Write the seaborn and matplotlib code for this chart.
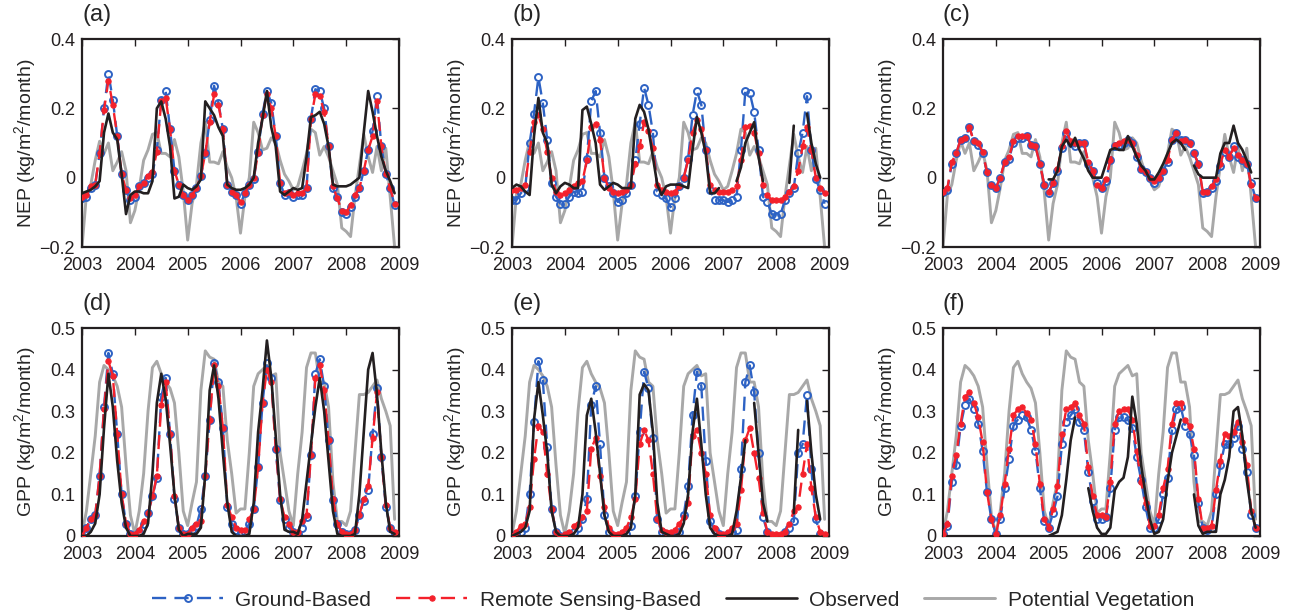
import numpy as np
import pandas as pd
import matplotlib
matplotlib.use("Agg")
import matplotlib.pyplot as plt
import seaborn as sns

nan = np.nan
months = 2003 + np.arange(72) / 12

# potential vegetation is the same in every panel of a row
nep_potential = [
    -0.20, -0.05, -0.02, 0.05, 0.105, 0.07, 0.10, 0.02, 0.045, 0.075, 0.02, -0.13,
    -0.095, -0.03, 0.05, 0.08, 0.125, 0.13, 0.07, 0.07, 0.06, 0.11, 0.06, -0.04,
    -0.18, -0.075, -0.02, 0.10, 0.16, 0.045, 0.045, 0.04, 0.075, 0.03, 0.0, -0.055,
    -0.16, -0.055, 0.0, 0.16, 0.13, 0.08, 0.085, 0.115, 0.10, 0.05, 0.01, -0.01,
    -0.035, -0.025, 0.02, 0.07, 0.14, 0.13, 0.065, 0.09, 0.06, 0.02, -0.02, -0.145,
    -0.155, -0.17, -0.055, 0.035, 0.125, 0.06, 0.015, 0.09, 0.02, 0.085, -0.055, -0.20,
]
gpp_potential = [
    0.005, 0.06, 0.15, 0.24, 0.37, 0.41, 0.40, 0.385, 0.36, 0.31, 0.17, 0.05,
    0.005, 0.06, 0.15, 0.30, 0.405, 0.42, 0.39, 0.37, 0.355, 0.32, 0.20, 0.06,
    0.025, 0.08, 0.13, 0.35, 0.445, 0.43, 0.425, 0.37, 0.36, 0.23, 0.15, 0.055,
    0.065, 0.065, 0.20, 0.36, 0.39, 0.40, 0.41, 0.385, 0.39, 0.20, 0.13, 0.06,
    0.025, 0.15, 0.25, 0.405, 0.44, 0.44, 0.37, 0.37, 0.31, 0.13, 0.035, 0.035,
    0.025, 0.06, 0.20, 0.34, 0.34, 0.345, 0.36, 0.375, 0.33, 0.30, 0.265, 0.04,
]

# (a) NEP
ground_a = [
    -0.06, -0.055, -0.03, -0.02, 0.07, 0.20, 0.30, 0.225, 0.12, 0.01, -0.035, -0.065,
    -0.055, -0.025, -0.015, 0.0, 0.01, 0.08, 0.225, 0.25, 0.14, 0.02, -0.02, -0.05,
    -0.065, -0.05, -0.03, 0.005, 0.07, 0.165, 0.265, 0.215, 0.14, -0.02, -0.04, -0.05,
    -0.075, -0.045, -0.02, -0.005, 0.075, 0.185, 0.25, 0.215, 0.12, -0.015, -0.05, -0.045,
    -0.055, -0.05, -0.05, -0.03, 0.17, 0.255, 0.25, 0.20, 0.09, -0.03, -0.055, -0.10,
    -0.105, -0.085, -0.055, -0.03, 0.02, 0.08, 0.135, 0.235, 0.09, 0.01, -0.03, -0.08,
]
remote_a = [
    -0.055, -0.05, -0.025, -0.02, 0.07, 0.195, 0.28, 0.21, 0.12, 0.01, -0.035, -0.06,
    -0.05, -0.025, -0.015, 0.005, 0.015, 0.075, 0.22, 0.23, 0.14, 0.02, -0.02, -0.05,
    -0.065, -0.05, -0.03, 0.005, 0.07, 0.16, 0.24, 0.21, 0.14, -0.02, -0.04, -0.05,
    -0.07, -0.045, -0.02, 0.0, 0.07, 0.18, 0.24, 0.20, 0.12, -0.015, -0.045, -0.04,
    -0.05, -0.045, -0.045, -0.03, 0.17, 0.24, 0.235, 0.19, 0.09, -0.025, -0.06, -0.095,
    -0.10, -0.08, -0.05, -0.03, 0.02, 0.08, 0.12, 0.22, 0.09, 0.01, -0.03, -0.075,
]
observed_a = [
    -0.045, -0.04, -0.035, -0.025, -0.01, 0.13, 0.185, 0.13, 0.11, 0.01, -0.105, -0.05,
    -0.04, -0.04, -0.045, -0.045, -0.01, 0.20, 0.22, 0.17, 0.09, -0.06, -0.055, -0.02,
    -0.03, -0.035, -0.025, -0.005, 0.22, 0.20, 0.18, 0.145, 0.12, -0.02, -0.03, -0.035,
    -0.035, -0.03, -0.02, 0.0, 0.10, 0.17, 0.25, 0.145, 0.09, -0.04, -0.05, -0.04,
    -0.03, -0.035, -0.03, 0.06, 0.175, 0.18, 0.19, 0.155, 0.09, -0.02, -0.025, -0.025,
    -0.025, -0.02, -0.01, 0.0, 0.13, 0.25, 0.19, 0.12, 0.06, 0.02, -0.01, -0.045,
]

# (b) NEP
ground_b = [
    -0.065, -0.065, -0.045, -0.03, 0.10, 0.185, 0.29, 0.215, 0.11, -0.015, -0.055, -0.075,
    -0.075, -0.055, -0.04, -0.045, -0.04, 0.055, 0.22, 0.25, 0.13, 0.0, -0.025, -0.045,
    -0.07, -0.065, -0.045, -0.02, 0.05, 0.155, 0.26, 0.21, 0.13, -0.04, -0.05, -0.06,
    -0.085, -0.06, -0.025, 0.0, 0.055, 0.18, 0.25, 0.21, 0.08, -0.035, -0.065, -0.065,
    -0.065, -0.07, -0.065, -0.055, 0.08, 0.25, 0.245, 0.19, 0.08, -0.055, -0.07, -0.105,
    -0.11, -0.105, -0.065, -0.045, -0.03, 0.07, 0.13, 0.235, 0.08, -0.005, -0.035, -0.075,
]
remote_b = [
    -0.035, -0.035, -0.03, -0.02, 0.075, 0.16, 0.18, 0.14, 0.075, 0.0, -0.04, -0.05,
    -0.045, -0.035, -0.025, -0.015, -0.01, 0.05, 0.145, 0.155, 0.11, 0.0, -0.03, -0.04,
    -0.045, -0.04, -0.035, -0.02, 0.04, 0.09, 0.16, 0.135, 0.085, -0.02, -0.035, -0.04,
    -0.045, -0.04, -0.025, 0.0, 0.05, 0.13, 0.165, 0.14, 0.08, -0.02, -0.035, -0.04,
    -0.04, -0.04, -0.035, -0.025, 0.05, 0.145, 0.15, 0.13, 0.07, -0.02, -0.05, -0.065,
    -0.065, -0.065, -0.055, -0.04, -0.025, 0.02, 0.09, 0.145, 0.08, 0.0, -0.03, -0.045,
]
observed_b = [
    -0.03, -0.02, -0.025, -0.04, -0.05, 0.12, 0.23, 0.13, 0.10, -0.02, -0.045, -0.025,
    -0.015, -0.02, -0.03, -0.03, 0.195, 0.205, 0.155, 0.10, -0.02, -0.035, -0.025, -0.015,
    -0.02, -0.03, -0.03, -0.03, 0.17, 0.21, 0.19, 0.14, 0.06, -0.02, -0.05, -0.025,
    -0.02, -0.02, -0.02, -0.025, -0.03, 0.08, 0.175, 0.13, 0.07, -0.045, -0.045, -0.03,
    nan, nan, nan, -0.01, 0.03, 0.10, 0.13, 0.16, 0.06, -0.01, nan, nan,
    nan, nan, nan, -0.015, 0.15, nan, nan, 0.185, 0.10, 0.04, 0.0, nan,
]

# (c) NEP
ground_c = [
    -0.04, -0.035, 0.04, 0.07, 0.11, 0.115, 0.145, 0.105, 0.095, 0.07, 0.015, -0.02,
    -0.03, 0.0, 0.045, 0.055, 0.10, 0.115, 0.115, 0.12, 0.095, 0.09, 0.04, -0.02,
    -0.045, -0.015, 0.02, 0.085, 0.13, 0.10, 0.09, 0.10, 0.10, 0.04, 0.02, -0.015,
    -0.03, -0.01, 0.05, 0.09, 0.095, 0.10, 0.11, 0.10, 0.06, 0.025, 0.015, 0.0,
    -0.015, 0.0, 0.02, 0.045, 0.11, 0.13, 0.11, 0.11, 0.10, 0.07, 0.04, -0.045,
    -0.04, -0.03, -0.01, 0.035, 0.075, 0.06, 0.09, 0.06, 0.05, 0.04, -0.015, -0.06,
]
remote_c = [
    -0.04, -0.03, 0.045, 0.07, 0.11, 0.115, 0.145, 0.105, 0.10, 0.075, 0.015, -0.02,
    -0.03, 0.0, 0.045, 0.06, 0.105, 0.12, 0.12, 0.12, 0.095, 0.09, 0.04, -0.02,
    -0.04, -0.015, 0.025, 0.09, 0.135, 0.105, 0.10, 0.10, 0.10, 0.045, 0.02, -0.02,
    -0.03, -0.005, 0.05, 0.095, 0.10, 0.105, 0.11, 0.10, 0.065, 0.025, 0.015, 0.0,
    -0.01, 0.0, 0.02, 0.05, 0.11, 0.13, 0.105, 0.11, 0.10, 0.07, 0.04, -0.04,
    -0.04, -0.025, -0.005, 0.04, 0.08, 0.06, 0.085, 0.065, 0.05, 0.04, -0.02, -0.06,
]
observed_c = [
    nan, nan, nan, nan, nan, nan, nan, nan, nan, nan, nan, nan,
    nan, nan, nan, nan, nan, nan, nan, nan, nan, nan, nan, nan,
    -0.005, -0.005, 0.02, 0.09, 0.11, 0.09, 0.115, 0.08, 0.055, 0.02, 0.0, 0.0,
    0.0, 0.04, 0.08, 0.085, 0.08, 0.08, 0.12, 0.09, 0.06, 0.035, 0.02, -0.005,
    -0.005, 0.015, 0.04, 0.07, 0.10, 0.11, 0.10, 0.08, nan, 0.035, 0.01, 0.0,
    0.0, 0.0, 0.0, 0.07, 0.10, 0.10, 0.15, 0.10, 0.08, 0.05, 0.015, nan,
]

# (d) GPP
ground_d = [
    0.0, 0.02, 0.04, 0.05, 0.145, 0.31, 0.44, 0.39, 0.245, 0.10, 0.03, 0.005,
    0.0, 0.01, 0.03, 0.055, 0.095, 0.14, 0.335, 0.38, 0.245, 0.09, 0.02, 0.005,
    0.005, 0.015, 0.025, 0.065, 0.145, 0.28, 0.415, 0.37, 0.26, 0.07, 0.03, 0.015,
    0.01, 0.01, 0.03, 0.065, 0.165, 0.32, 0.415, 0.38, 0.21, 0.087, 0.04, 0.02,
    0.01, 0.005, 0.02, 0.045, 0.195, 0.39, 0.425, 0.36, 0.23, 0.087, 0.03, 0.01,
    0.005, 0.005, 0.015, 0.05, 0.085, 0.11, 0.245, 0.355, 0.19, 0.07, 0.02, 0.005,
]
remote_d = [
    0.0, 0.02, 0.04, 0.05, 0.145, 0.305, 0.42, 0.385, 0.245, 0.10, 0.03, 0.005,
    0.005, 0.015, 0.035, 0.055, 0.095, 0.145, 0.315, 0.37, 0.245, 0.095, 0.02, 0.005,
    0.005, 0.02, 0.03, 0.035, 0.145, 0.28, 0.41, 0.36, 0.26, 0.075, 0.045, 0.02,
    0.015, 0.015, 0.04, 0.065, 0.165, 0.32, 0.40, 0.37, 0.21, 0.09, 0.045, 0.03,
    0.01, 0.01, 0.035, 0.05, 0.195, 0.38, 0.41, 0.35, 0.23, 0.09, 0.03, 0.01,
    0.005, 0.005, 0.015, 0.05, 0.09, 0.12, 0.235, 0.345, 0.19, 0.075, 0.02, 0.01,
]
observed_d = [
    0.0, 0.0, 0.01, 0.03, 0.10, 0.26, 0.39, 0.31, 0.18, 0.08, 0.02, 0.0,
    0.0, 0.0, 0.005, 0.03, 0.15, 0.32, 0.39, 0.33, 0.22, 0.10, 0.015, 0.0,
    0.005, 0.005, 0.005, 0.02, 0.15, 0.35, 0.41, 0.33, 0.20, 0.08, 0.01, 0.0,
    0.0, 0.0, 0.005, 0.08, 0.25, 0.35, 0.47, 0.38, 0.24, 0.10, 0.015, 0.01,
    0.01, 0.005, 0.04, 0.13, 0.22, 0.31, 0.38, 0.30, 0.18, 0.06, 0.005, 0.0,
    0.0, 0.0, 0.005, 0.10, 0.25, 0.40, 0.44, 0.34, 0.20, 0.08, 0.01, 0.005,
]

# (e) GPP
ground_e = [
    0.0, 0.005, 0.01, 0.02, 0.10, 0.275, 0.42, 0.375, 0.215, 0.065, 0.01, 0.0,
    0.0, 0.005, 0.01, 0.02, 0.04, 0.09, 0.315, 0.36, 0.22, 0.05, 0.01, 0.0,
    0.0, 0.0, 0.005, 0.025, 0.095, 0.25, 0.395, 0.355, 0.235, 0.04, 0.01, 0.005,
    0.0, 0.0, 0.01, 0.05, 0.12, 0.29, 0.395, 0.36, 0.18, 0.035, 0.015, 0.005,
    0.0, 0.005, 0.01, 0.015, 0.16, 0.37, 0.41, 0.345, 0.20, 0.045, 0.01, 0.0,
    0.0, 0.0, 0.01, 0.02, 0.035, 0.20, 0.22, 0.34, 0.16, 0.04, 0.005, 0.0,
]
remote_e = [
    0.0, 0.01, 0.025, 0.03, 0.07, 0.185, 0.265, 0.25, 0.15, 0.065, 0.01, 0.0,
    0.005, 0.01, 0.025, 0.03, 0.045, 0.06, 0.21, 0.235, 0.145, 0.07, 0.02, 0.005,
    0.005, 0.01, 0.02, 0.045, 0.09, 0.22, 0.255, 0.23, 0.15, 0.04, 0.015, 0.01,
    0.01, 0.015, 0.03, 0.045, 0.08, 0.24, 0.255, 0.20, 0.15, 0.05, 0.02, 0.005,
    0.005, 0.01, 0.02, 0.03, 0.11, 0.23, 0.26, 0.20, 0.14, 0.055, 0.01, 0.005,
    0.005, 0.005, 0.01, 0.03, 0.06, 0.07, 0.15, 0.22, 0.115, 0.045, 0.01, 0.005,
]
observed_e = [
    0.0, 0.005, 0.01, 0.02, 0.06, 0.28, 0.37, 0.29, 0.20, 0.06, 0.01, 0.0,
    0.0, 0.0, 0.005, 0.02, 0.10, 0.29, 0.33, 0.25, 0.15, 0.05, 0.01, 0.0,
    0.0, 0.0, 0.005, 0.02, 0.10, 0.34, 0.365, 0.35, 0.25, 0.08, 0.01, 0.005,
    0.0, 0.0, 0.005, 0.03, 0.10, 0.25, 0.33, 0.22, 0.10, 0.02, 0.005, 0.0,
    0.0, 0.0, 0.005, 0.06, 0.14, 0.23, nan, 0.32, 0.20, 0.08, 0.035, nan,
    nan, nan, nan, nan, 0.055, 0.255, nan, 0.325, 0.20, 0.10, 0.04, nan,
]

# (f) GPP
ground_f = [
    0.005, 0.025, 0.13, 0.17, 0.265, 0.315, 0.33, 0.305, 0.27, 0.205, 0.105, 0.04,
    0.005, 0.04, 0.115, 0.185, 0.265, 0.28, 0.29, 0.285, 0.255, 0.205, 0.115, 0.035,
    0.02, 0.055, 0.095, 0.22, 0.275, 0.29, 0.305, 0.275, 0.255, 0.155, 0.085, 0.04,
    0.04, 0.045, 0.115, 0.255, 0.285, 0.285, 0.28, 0.26, 0.19, 0.135, 0.07, 0.02,
    0.02, 0.04, 0.10, 0.14, 0.255, 0.305, 0.31, 0.265, 0.245, 0.195, 0.08, 0.02,
    0.015, 0.02, 0.10, 0.17, 0.22, 0.22, 0.235, 0.265, 0.21, 0.155, 0.05, 0.02,
]
remote_f = [
    0.005, 0.03, 0.145, 0.195, 0.27, 0.335, 0.345, 0.32, 0.285, 0.225, 0.105, 0.04,
    0.005, 0.05, 0.125, 0.21, 0.29, 0.305, 0.31, 0.295, 0.28, 0.22, 0.125, 0.04,
    0.02, 0.065, 0.12, 0.245, 0.305, 0.31, 0.32, 0.29, 0.27, 0.165, 0.095, 0.05,
    0.05, 0.045, 0.13, 0.27, 0.30, 0.305, 0.305, 0.28, 0.205, 0.13, 0.08, 0.025,
    0.025, 0.05, 0.115, 0.16, 0.27, 0.32, 0.32, 0.28, 0.265, 0.21, 0.09, 0.02,
    0.02, 0.025, 0.11, 0.18, 0.245, 0.24, 0.25, 0.275, 0.225, 0.17, 0.06, 0.02,
]
observed_f = [
    nan, nan, nan, nan, nan, nan, nan, nan, nan, nan, nan, nan,
    nan, nan, nan, nan, nan, nan, nan, nan, nan, nan, nan, nan,
    0.0, 0.005, 0.01, 0.05, 0.135, 0.23, 0.285, nan, nan, 0.115, 0.06, 0.02,
    0.005, 0.005, 0.02, 0.11, 0.13, 0.14, 0.19, 0.335, 0.27, 0.17, 0.10, 0.04,
    0.005, 0.01, 0.04, 0.13, 0.20, 0.24, 0.28, nan, nan, 0.10, 0.025, 0.005,
    0.01, 0.01, 0.01, 0.10, 0.135, 0.19, 0.30, 0.31, 0.24, 0.135, 0.06, 0.02,
]

panel_letters = ["(a)", "(b)", "(c)", "(d)", "(e)", "(f)"]
year_ticks = list(range(2003, 2010))

BLUE = "#2d62c4"
RED = "#f4212b"
BLACK = "#231f20"
GRAY = "#a8a8a8"


def split_runs(values):
    df = pd.DataFrame({"t": months, "v": values})
    df["seg"] = df["v"].isna().cumsum()
    return df.dropna()


def draw_panel(ax, ground, remote, observed, potential):
    sns.lineplot(x=months, y=potential, ax=ax, color=GRAY, linewidth=2.1,
                 estimator=None, legend=False, label="Potential Vegetation", zorder=1)
    sns.lineplot(x=months, y=ground, ax=ax, color=BLUE, linewidth=1.7,
                 linestyle=(0, (6, 3.5)), marker="o", markersize=5,
                 markerfacecolor="none", markeredgecolor=BLUE, markeredgewidth=1.4,
                 estimator=None, legend=False, label="Ground-Based", zorder=2)
    sns.lineplot(x=months, y=remote, ax=ax, color=RED, linewidth=1.7,
                 linestyle=(0, (6, 3.5)), marker="o", markersize=3.8,
                 markerfacecolor=RED, markeredgecolor=RED, markeredgewidth=0.8,
                 estimator=None, legend=False, label="Remote Sensing-Based", zorder=3)
    runs = split_runs(observed)
    sns.lineplot(data=runs, x="t", y="v", units="seg", estimator=None, ax=ax,
                 color=BLACK, linewidth=1.9, legend=False, label="Observed", zorder=4)


sns.set_style("white")
plt.rcParams["font.family"] = ["Liberation Sans", "DejaVu Sans"]
plt.rcParams["mathtext.fontset"] = "custom"
plt.rcParams["mathtext.rm"] = "Liberation Sans"
plt.rcParams["mathtext.default"] = "regular"

fig = plt.figure(figsize=(12.92, 6.15), dpi=100)
lefts = [82 / 1292, 512 / 1292, 943 / 1292]
bottoms = [1 - 247 / 615, 1 - 536 / 615]
width, height = 317 / 1292, 208 / 615

panels = [
    (ground_a, remote_a, observed_a, nep_potential),
    (ground_b, remote_b, observed_b, nep_potential),
    (ground_c, remote_c, observed_c, nep_potential),
    (ground_d, remote_d, observed_d, gpp_potential),
    (ground_e, remote_e, observed_e, gpp_potential),
    (ground_f, remote_f, observed_f, gpp_potential),
]

axes = []
for k, series in enumerate(panels):
    row, col = divmod(k, 3)
    ax = fig.add_axes([lefts[col], bottoms[row], width, height])
    draw_panel(ax, *series)
    ax.set_xlim(2003, 2009)
    ax.set_xticks(year_ticks)
    ax.set_xticklabels([str(y) for y in year_ticks])
    if row == 0:
        ax.set_ylim(-0.2, 0.4)
        ax.set_yticks([-0.2, 0, 0.2, 0.4])
        ax.set_yticklabels(["\u22120.2", "0", "0.2", "0.4"])
        ax.set_ylabel("NEP (kg/m$^2$/month)", fontsize=14)
    else:
        ax.set_ylim(0, 0.5)
        ax.set_yticks([0, 0.1, 0.2, 0.3, 0.4, 0.5])
        ax.set_yticklabels(["0", "0.1", "0.2", "0.3", "0.4", "0.5"])
        ax.set_ylabel("GPP (kg/m$^2$/month)", fontsize=14)
    ax.set_xlabel("")
    ax.yaxis.set_label_coords(-0.14, 0.5)
    ax.tick_params(direction="in", top=True, right=True, length=5, width=1,
                   labelsize=13, colors=BLACK)
    ax.tick_params(axis="x", pad=7)
    ax.tick_params(axis="y", pad=5)
    for spine in ax.spines.values():
        spine.set_linewidth(1.6)
        spine.set_color(BLACK)
    ax.text(0.0, 1.115, panel_letters[k], transform=ax.transAxes,
            fontsize=17, ha="left", va="center")
    axes.append(ax)

handles, labels = axes[0].get_legend_handles_labels()
by_label = dict(zip(labels, handles))
order = ["Ground-Based", "Remote Sensing-Based", "Observed", "Potential Vegetation"]
fig.legend([by_label[name] for name in order], order, loc="center",
           bbox_to_anchor=(0.521, 0.024), ncol=4, frameon=False, fontsize=15,
           handlelength=3.4, handletextpad=0.6, columnspacing=1.2)

fig.savefig("out.png", dpi=100)
